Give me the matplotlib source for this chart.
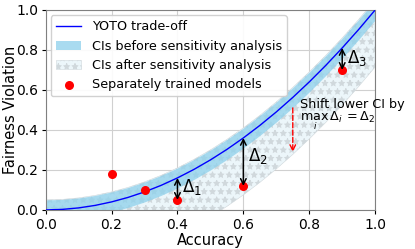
import matplotlib
matplotlib.use("Agg")
import matplotlib.pyplot as plt
import numpy as np

# YOTO trade-off curve
curve_x = [0.00, 0.05, 0.10, 0.15, 0.20, 0.25, 0.30, 0.35, 0.40, 0.45, 0.50,
           0.55, 0.60, 0.65, 0.70, 0.75, 0.80, 0.85, 0.90, 0.95, 1.00]
curve_y = [0.0, 0.0025, 0.01, 0.0225, 0.04, 0.0625, 0.09, 0.1225, 0.16, 0.2025, 0.25,
           0.3025, 0.36, 0.4225, 0.49, 0.5625, 0.64, 0.7225, 0.81, 0.9025, 1.0]
ci_half = 0.05
shift = 0.235

# Separately trained models
model_x = [0.2, 0.3, 0.4, 0.6, 0.9]
model_y = [0.18, 0.10, 0.05, 0.12, 0.70]

# Delta annotations (x, curve y, model y, label)
delta_x = [0.4, 0.6, 0.9]
delta_top = [0.16, 0.36, 0.81]
delta_bot = [0.05, 0.12, 0.70]
delta_labels = [r"$\Delta_1$", r"$\Delta_2$", r"$\Delta_3$"]
delta_label_pos = [(0.415, 0.115), (0.615, 0.27), (0.915, 0.76)]

cx = np.array(curve_x)
cy = np.array(curve_y)

plt.rcParams["hatch.linewidth"] = 0.7

fig = plt.figure(figsize=(4.15, 2.49), dpi=100)
ax = fig.add_axes([0.11, 0.157, 0.794, 0.803])

ax.fill_between(cx, cy - ci_half - shift, cy + ci_half, facecolor="#ecf6fa",
                edgecolor="#d0d8dc", hatch="**", linewidth=0.4, zorder=1,
                label="CIs after sensitivity analysis")
ax.fill_between(cx, cy - ci_half, cy + ci_half, color="#8dd0eb", alpha=0.75,
                linewidth=0, zorder=2, label="CIs before sensitivity analysis")
ax.plot(cx, cy, color="blue", linewidth=1.0, zorder=3, label="YOTO trade-off")
ax.scatter(model_x, model_y, color="red", s=30, zorder=5,
           label="Separately trained models")

for x, t, b, lab, pos in zip(delta_x, delta_top, delta_bot, delta_labels, delta_label_pos):
    ax.annotate("", xy=(x, b), xytext=(x, t),
                arrowprops=dict(arrowstyle="<->", color="black", lw=1.1,
                                shrinkA=0, shrinkB=0), zorder=6)
    ax.text(pos[0], pos[1], lab, fontsize=12, va="center", ha="left", zorder=6)

ax.annotate("", xy=(0.75, 0.29), xytext=(0.75, 0.51),
            arrowprops=dict(arrowstyle="->", color="red", lw=1.0, ls="--",
                            shrinkA=0, shrinkB=0), zorder=6)
ax.text(0.772, 0.525, "Shift lower CI by", fontsize=9.2, va="center", ha="left",
        zorder=6, clip_on=False)
ax.text(0.772, 0.445, r"$\max_i\,\Delta_i = \Delta_2$", fontsize=9.2, va="center",
        ha="left", zorder=6, clip_on=False)

ax.set_xlim(0, 1)
ax.set_ylim(0, 1)
ax.set_xticks([0, 0.2, 0.4, 0.6, 0.8, 1.0])
ax.set_yticks([0, 0.2, 0.4, 0.6, 0.8, 1.0])
ax.tick_params(labelsize=10, length=3, pad=2.5)
ax.grid(True, color="#d0d0d0", linewidth=0.8, zorder=0)
ax.set_axisbelow(True)
for s in ax.spines.values():
    s.set_color("#808080")
ax.set_xlabel("Accuracy", fontsize=10.5, labelpad=1)
ax.set_ylabel("Fairness Violation", fontsize=10.5)
ax.yaxis.set_label_coords(-0.085, 0.5)

h, l = ax.get_legend_handles_labels()
order = [2, 1, 0, 3]
ax.legend([h[i] for i in order], [l[i] for i in order], loc="upper left",
          fontsize=9.2, framealpha=0.9, borderaxespad=0.4, handlelength=2.0)

fig.savefig("out.png", dpi=100)
